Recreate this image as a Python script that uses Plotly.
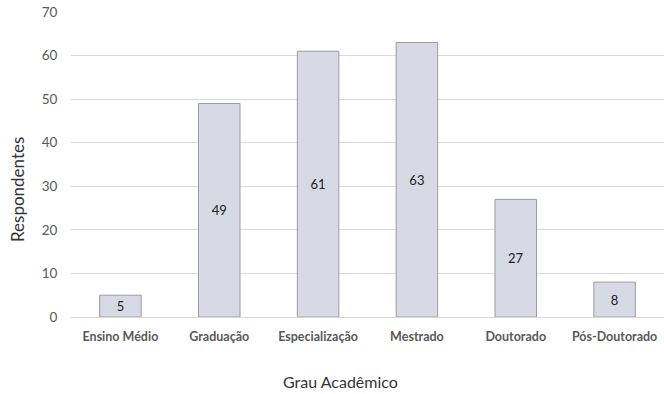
import plotly.graph_objects as go

categories = ["Ensino Médio", "Graduação", "Especialização", "Mestrado", "Doutorado", "Pós-Doutorado"]
values = [5, 49, 61, 63, 27, 8]
y_ticks = [0, 10, 20, 30, 40, 50, 60, 70]

W, H = 664, 394

fig = go.Figure(go.Bar(
    x=categories, y=values,
    text=[str(v) for v in values],
    textposition="inside", insidetextanchor="middle", textangle=0,
    constraintext="none",
    textfont=dict(family="Lato, sans-serif", size=13, color="#222222"),
    marker=dict(color="#d6dae4", line=dict(color="#9a9ca4", width=1)),
    cliponaxis=False,
))

fig.update_layout(
    width=W, height=H,
    margin=dict(l=71, r=0, t=12, b=77),
    plot_bgcolor="white", paper_bgcolor="white",
    bargap=0.58,
    showlegend=False,
    font=dict(family="Lato, sans-serif", color="#595959"),
    xaxis=dict(
        automargin=False,
        tickfont=dict(size=12.5, color="#595959", family="Lato, sans-serif", weight="bold"),
        showline=True, linecolor="#d9d9d9", ticks="outside", ticklen=8, tickcolor="rgba(0,0,0,0)",
    ),
    yaxis=dict(
        automargin=False,
        range=[0, 70], tickvals=y_ticks,
        tickfont=dict(size=13.5, color="#595959"),
        gridcolor="#d9d9d9", zeroline=False,
        ticks="outside", ticklen=10, tickcolor="rgba(0,0,0,0)",
    ),
    annotations=[
        dict(text="Grau Acadêmico", xref="paper", yref="paper",
             x=(340 - 71) / (W - 71), y=-(381 - 317) / (317 - 12),
             xanchor="center", yanchor="middle", showarrow=False,
             font=dict(size=16, color="#333333", family="Lato, sans-serif")),
        dict(text="Respondentes", xref="paper", yref="paper",
             x=-(71 - 17) / (W - 71), y=(317 - 190) / (317 - 12),
             xanchor="center", yanchor="middle", showarrow=False, textangle=-90,
             font=dict(size=17, color="#333333", family="Lato, sans-serif")),
    ],
)

fig.write_html("out.html", config={"displayModeBar": False},
               post_script="document.body.style.margin='0';")
